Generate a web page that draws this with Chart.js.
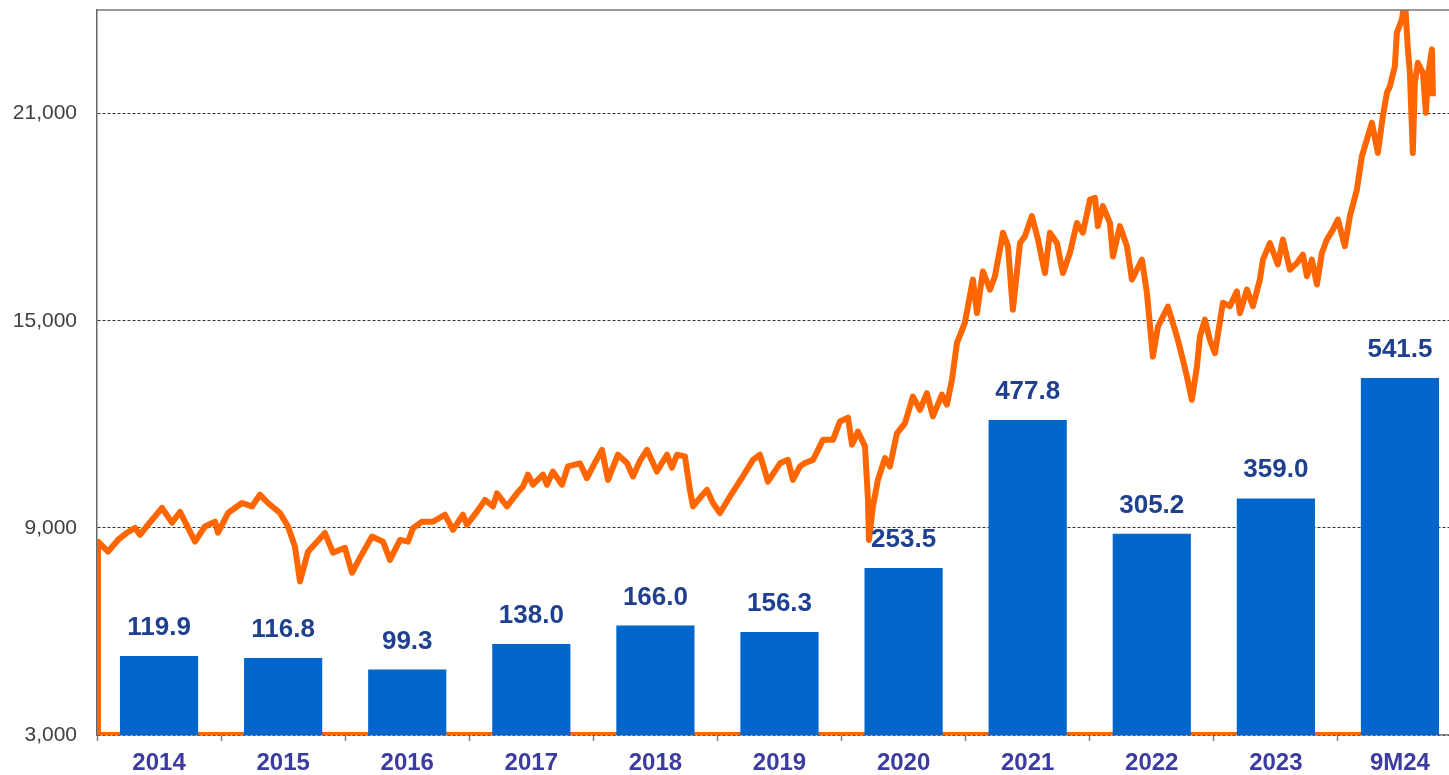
<!DOCTYPE html>
<html>
<head>
<meta charset="utf-8">
<script src="https://cdn.jsdelivr.net/npm/chart.js@4.4.1/dist/chart.umd.min.js"></script>
<style>
  html, body { margin: 0; padding: 0; background: #fff; }
  #wrap { width: 1449px; height: 775px; overflow: hidden; }
</style>
</head>
<body>
<div id="wrap"><canvas id="chart" width="1462" height="775"></canvas></div>
<script>
// Categories and bar values
const years = ['2014', '2015', '2016', '2017', '2018', '2019', '2020', '2021', '2022', '2023', '9M24'];
const barValues = [119.9, 116.8, 99.3, 138.0, 166.0, 156.3, 253.5, 477.8, 305.2, 359.0, 541.5];

// Left axis
const yTicks = [3000, 9000, 15000, 21000];

// Index line (dates as fractional years)
const indexDates = [
  2014.008, 2014.089, 2014.169, 2014.242, 2014.306, 2014.346, 2014.411, 2014.524, 2014.604, 2014.669,
  2014.790, 2014.870, 2014.951, 2014.975, 2015.056, 2015.168, 2015.249, 2015.313, 2015.378, 2015.475,
  2015.539, 2015.595, 2015.636, 2015.700, 2015.837, 2015.902, 2015.958, 2015.998, 2016.055, 2016.119,
  2016.216, 2016.305, 2016.361, 2016.442, 2016.506, 2016.546, 2016.619, 2016.708, 2016.804, 2016.869,
  2016.949, 2016.981, 2017.062, 2017.127, 2017.191, 2017.223, 2017.304, 2017.384, 2017.433, 2017.473,
  2017.513, 2017.594, 2017.626, 2017.674, 2017.747, 2017.795, 2017.892, 2017.948, 2017.997, 2018.069,
  2018.118, 2018.198, 2018.271, 2018.319, 2018.375, 2018.432, 2018.512, 2018.593, 2018.633, 2018.674,
  2018.738, 2018.778, 2018.803, 2018.859, 2018.915, 2018.964, 2019.020, 2019.101, 2019.197, 2019.286,
  2019.342, 2019.407, 2019.504, 2019.568, 2019.608, 2019.665, 2019.705, 2019.770, 2019.850, 2019.931,
  2019.987, 2020.052, 2020.084, 2020.132, 2020.189, 2020.213, 2020.221, 2020.253, 2020.293, 2020.350,
  2020.390, 2020.446, 2020.511, 2020.575, 2020.632, 2020.688, 2020.736, 2020.809, 2020.849, 2020.890,
  2020.930, 2020.994, 2021.059, 2021.091, 2021.139, 2021.196, 2021.236, 2021.301, 2021.341, 2021.381,
  2021.438, 2021.478, 2021.534, 2021.583, 2021.639, 2021.679, 2021.736, 2021.784, 2021.840, 2021.897,
  2021.945, 2022.002, 2022.042, 2022.066, 2022.106, 2022.163, 2022.187, 2022.243, 2022.300, 2022.340,
  2022.421, 2022.461, 2022.509, 2022.550, 2022.630, 2022.703, 2022.751, 2022.783, 2022.823, 2022.864,
  2022.888, 2022.928, 2022.968, 2023.009, 2023.073, 2023.130, 2023.186, 2023.210, 2023.267, 2023.315,
  2023.371, 2023.396, 2023.452, 2023.516, 2023.557, 2023.613, 2023.670, 2023.718, 2023.750, 2023.790,
  2023.831, 2023.871, 2023.911, 2023.960, 2024.000, 2024.056, 2024.097, 2024.153, 2024.193, 2024.234,
  2024.274, 2024.322, 2024.362, 2024.395, 2024.419, 2024.459, 2024.475, 2024.516, 2024.540, 2024.564,
  2024.580, 2024.604, 2024.620, 2024.644, 2024.685, 2024.709, 2024.725, 2024.758, 2024.766
];
const indexValues = [
  8600, 8310, 8650, 8860, 9000, 8800, 9090, 9580, 9150, 9460,
  8600, 9040, 9180, 8860, 9430, 9720, 9620, 9960, 9720, 9430,
  9040, 8460, 7450, 8310, 8850, 8280, 8365, 8420, 7700, 8130,
  8750, 8600, 8070, 8650, 8600, 8990, 9180, 9180, 9380, 8940,
  9380, 9090, 9470, 9810, 9620, 10000, 9620, 10000, 10200, 10540,
  10250, 10540, 10250, 10630, 10250, 10780, 10870, 10440, 10780, 11260,
  10390, 11120, 10880, 10490, 10940, 11260, 10630, 11120, 10740, 11120,
  11070, 10100, 9620, 9870, 10100, 9720, 9430, 9910, 10450, 10970,
  11120, 10340, 10870, 10970, 10390, 10780, 10880, 10970, 11550, 11550,
  12080, 12190, 11410, 11790, 11360, 9810, 8650, 9620, 10390, 11020,
  10780, 11740, 12030, 12800, 12420, 12900, 12230, 12860, 12570, 13290,
  14360, 14940, 16190, 15220, 16430, 15900, 16290, 17550, 17160, 15320,
  17250, 17450, 18030, 17350, 16380, 17550, 17250, 16380, 16960, 17830,
  17550, 18510, 18560, 17740, 18320, 17830, 16860, 17740, 17160, 16190,
  16770, 15800, 13960, 14830, 15410, 14540, 13870, 13390, 12710, 13670,
  14540, 15030, 14450, 14060, 15520, 15420, 15850, 15220, 15900, 15420,
  16190, 16770, 17250, 16630, 17350, 16480, 16670, 16910, 16290, 16770,
  16050, 16960, 17350, 17640, 17930, 17160, 18030, 18800, 19760, 20250,
  20730, 19860, 20920, 21600, 21790, 22370, 23340, 23730, 24300, 22860,
  22180, 19860, 21890, 22470, 22180, 21020, 22080, 22860, 21500
];

const Y_MIN = 3000;
const Y_MAX = 24000;

// outline starts on the base line, runs back along it, then up the left edge
const linePoints = [
  { x: indexDates[indexDates.length - 1], y: Y_MIN },
  { x: indexDates[0], y: Y_MIN }
].concat(indexDates.map((d, i) => ({ x: d, y: indexValues[i] })));

const FONT = "Arial, 'Liberation Sans', sans-serif";

// Value labels above bars + top frame line
const barLabels = {
  id: 'barLabels',
  afterDatasetsDraw(chart) {
    const ctx = chart.ctx;
    const meta = chart.getDatasetMeta(0);
    ctx.save();
    ctx.font = 'bold 26px ' + FONT;
    ctx.fillStyle = '#1f3f8f';
    ctx.textAlign = 'center';
    ctx.textBaseline = 'alphabetic';
    meta.data.forEach((bar, i) => {
      ctx.fillText(barValues[i].toFixed(1), bar.x, bar.y - 21);
    });
    const a = chart.chartArea;
    ctx.strokeStyle = '#777';
    ctx.lineWidth = 1.5;
    ctx.beginPath();
    ctx.moveTo(a.left, a.top);
    ctx.lineTo(a.right, a.top);
    ctx.stroke();
    ctx.restore();
  }
};

const ctx = document.getElementById('chart').getContext('2d');
new Chart(ctx, {
  type: 'bar',
  data: {
    labels: years,
    datasets: [
      {
        type: 'bar',
        data: barValues,
        xAxisID: 'x',
        yAxisID: 'yBar',
        backgroundColor: '#0066cc',
        barPercentage: 0.63,
        categoryPercentage: 1,
        grouped: false,
        order: 1
      },
      {
        type: 'line',
        data: linePoints,
        xAxisID: 'xLine',
        yAxisID: 'y',
        borderColor: '#ff6600',
        borderWidth: 6,
        borderJoinStyle: 'round',
        pointRadius: 0,
        tension: 0,
        clip: 0,
        order: 2
      }
    ]
  },
  options: {
    responsive: false,
    animation: false,
    layout: { padding: { top: 10, left: 0, right: 0, bottom: 0 } },
    plugins: { legend: { display: false }, tooltip: { enabled: false } },
    scales: {
      x: {
        type: 'category',
        position: 'bottom',
        offset: true,
        grid: { display: true, drawOnChartArea: false, offset: true, tickLength: 6, tickColor: '#808080', tickWidth: 1.5 },
        border: { color: '#808080', width: 1.5 },
        ticks: { color: '#3c3ca0', font: { family: FONT, size: 24, weight: 'bold' }, padding: 8 },
        afterFit: axis => { axis.height = 40; axis.paddingLeft = 0; axis.paddingRight = 0; }
      },
      xLine: {
        type: 'linear',
        display: false,
        offset: false,
        grid: { offset: false },
        min: 2014,
        max: 2025
      },
      y: {
        position: 'left',
        min: Y_MIN,
        max: Y_MAX,
        afterBuildTicks: axis => { axis.ticks = yTicks.map(v => ({ value: v })); },
        grid: { color: '#333', lineWidth: 1, drawTicks: false },
        border: { color: '#666', width: 1.5, dash: [3, 2] },
        ticks: {
          color: '#404040',
          padding: 20,
          font: { family: FONT, size: 21 },
          callback: v => v.toLocaleString('en-US')
        },
        afterFit: axis => { axis.width = 97; axis.paddingTop = 0; axis.paddingBottom = 0; }
      },
      yBar: {
        display: false,
        min: 0,
        max: 1100
      }
    }
  },
  plugins: [barLabels]
});
</script>
</body>
</html>
